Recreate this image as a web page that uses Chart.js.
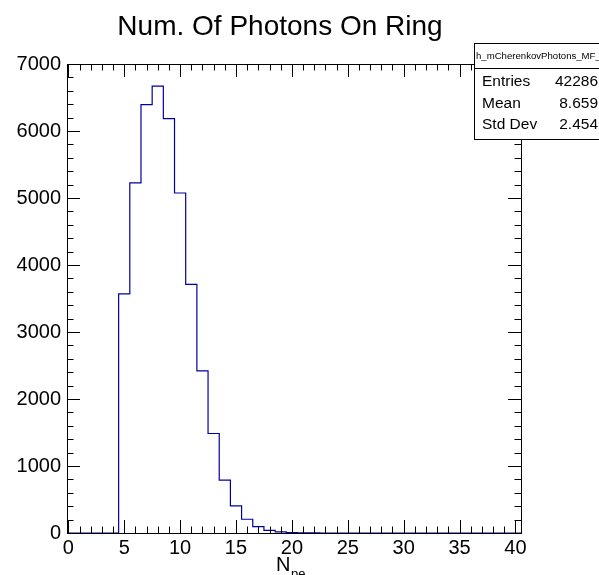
<!DOCTYPE html>
<html>
<head>
<meta charset="utf-8">
<script src="https://cdn.jsdelivr.net/npm/chart.js@4.4.0/dist/chart.umd.min.js"></script>
<style>
    body { margin: 0; background: #fff; }
</style>
</head>
<body>
<canvas id="photonsRing" width="599" height="575"></canvas>
<script>
// histogram contents, one entry per unit-wide bin (centred on the integer)
const binCenters = [0, 1, 2, 3, 4, 5, 6, 7, 8, 9, 10, 11, 12, 13, 14, 15, 16, 17, 18, 19, 20, 21, 22, 23, 24, 25, 26, 27, 28, 29, 30, 31, 32, 33, 34, 35, 36, 37, 38, 39, 40];
const binCounts = [0, 0, 0, 0, 0, 3570, 5225, 6395, 6670, 6185, 5075, 3710, 2420, 1485, 790, 405, 205, 95, 40, 17, 7, 3, 1, 0, 0, 0, 0, 0, 0, 0, 0, 0, 0, 0, 0, 0, 0, 0, 0, 0, 0];

const xTickValues = [0, 5, 10, 15, 20, 25, 30, 35, 40];
const yTickValues = [0, 1000, 2000, 3000, 4000, 5000, 6000, 7000];

const chartTitle = "Num. Of Photons On Ring";
const histName = "h_mCherenkovPhotons_MF_x";
const statsLabels = ["Entries", "Mean", "Std Dev"];
const statsValues = ["42286", "8.659", "2.454"];

const FONT = "'Liberation Sans', Arial, Helvetica, sans-serif";

// ROOT style frame: box, inner ticks, title, axis title, stats box
const rootFrame = {
    id: "rootFrame",
    afterDraw(chart) {
        const ctx = chart.ctx;
        const area = chart.chartArea;
        const xs = chart.scales.x;
        const ys = chart.scales.y;

        ctx.save();
        ctx.strokeStyle = "#000";
        ctx.lineWidth = 1;
        ctx.strokeRect(Math.round(area.left) + 0.5, Math.round(area.top) + 0.5,
            Math.round(area.right - area.left), Math.round(area.bottom - area.top));

        // x ticks, bottom and top (major every 5, minor every 1)
        ctx.beginPath();
        for (let v = 0; v <= 40; v += 1) {
            const px = Math.round(xs.getPixelForValue(v)) + 0.5;
            const len = v % 5 === 0 ? 13 : 6.5;
            ctx.moveTo(px, area.bottom);
            ctx.lineTo(px, area.bottom - len);
            ctx.moveTo(px, area.top);
            ctx.lineTo(px, area.top + len);
        }
        // y ticks, left and right (major every 1000, minor every 200)
        for (let v = 0; v <= 7000; v += 200) {
            const py = Math.round(ys.getPixelForValue(v)) + 0.5;
            const len = v % 1000 === 0 ? 13 : 6.5;
            ctx.moveTo(area.left, py);
            ctx.lineTo(area.left + len, py);
            ctx.moveTo(area.right, py);
            ctx.lineTo(area.right - len, py);
        }
        ctx.stroke();

        // title
        ctx.fillStyle = "#000";
        ctx.textAlign = "center";
        ctx.textBaseline = "alphabetic";
        ctx.font = "28px " + FONT;
        ctx.fillText(chartTitle, 280, 35);

        // x axis title N_pe
        ctx.textAlign = "left";
        ctx.font = "20px " + FONT;
        ctx.fillText("N", 276, 571);
        ctx.font = "13px " + FONT;
        ctx.fillText("pe", 291, 578);

        // stats box
        const bx = 474.5, by = 43.5, bw = 200, bh = 96;
        ctx.fillStyle = "#fff";
        ctx.fillRect(bx, by, bw, bh);
        ctx.strokeRect(bx, by, bw, bh);
        ctx.beginPath();
        ctx.moveTo(bx, 68.5);
        ctx.lineTo(bx + bw, 68.5);
        ctx.stroke();

        ctx.fillStyle = "#000";
        ctx.textBaseline = "middle";
        ctx.font = "9.6px " + FONT;
        ctx.fillText(histName, 476, 56);
        ctx.font = "15.5px " + FONT;
        const rowY = [81.5, 103.5, 125];
        statsLabels.forEach((lab, i) => {
            ctx.textAlign = "left";
            ctx.fillText(lab, 482, rowY[i]);
            ctx.textAlign = "right";
            ctx.fillText(statsValues[i], 598, rowY[i]);
        });
        ctx.restore();
    },
};

const histPoints = binCenters.map((c, i) => ({ x: c - 0.5, y: binCounts[i] }));
histPoints.push({ x: binCenters[binCenters.length - 1] + 0.5, y: binCounts[binCounts.length - 1] });

const ctx = document.getElementById("photonsRing").getContext("2d");

const photonsChart = new Chart(ctx, {
    type: "line",
    data: {
        datasets: [
            {
                label: histName,
                data: histPoints,
                stepped: true,
                borderColor: "#0000a0",
                borderWidth: 1.2,
                pointRadius: 0,
                fill: false,
            },
        ],
    },
    options: {
        responsive: false,
        animation: false,
        devicePixelRatio: 1,
        layout: {
            padding: { left: 0, top: 64, right: 78, bottom: 0 },
        },
        plugins: {
            legend: { display: false },
            title: { display: false },
            tooltip: { enabled: false },
        },
        scales: {
            x: {
                type: "linear",
                min: -0.12,
                max: 40.5,
                afterBuildTicks: (s) => {
                    s.ticks = xTickValues.map((v) => ({ value: v }));
                },
                afterFit: (s) => {
                    s.height = 42;
                },
                grid: { display: false, drawTicks: false },
                border: { display: false },
                ticks: {
                    color: "#000",
                    font: { size: 20, family: FONT },
                    padding: 3,
                    maxRotation: 0,
                    autoSkip: false,
                    callback: (v) => String(v),
                },
            },
            y: {
                min: 0,
                max: 7000,
                afterBuildTicks: (s) => {
                    s.ticks = yTickValues.map((v) => ({ value: v }));
                },
                afterFit: (s) => {
                    s.width = 67;
                },
                grid: { display: false, drawTicks: false },
                border: { display: false },
                ticks: {
                    color: "#000",
                    font: { size: 20, family: FONT },
                    padding: 6,
                    callback: (v) => String(v),
                },
            },
        },
    },
    plugins: [rootFrame],
});
</script>
</body>
</html>
